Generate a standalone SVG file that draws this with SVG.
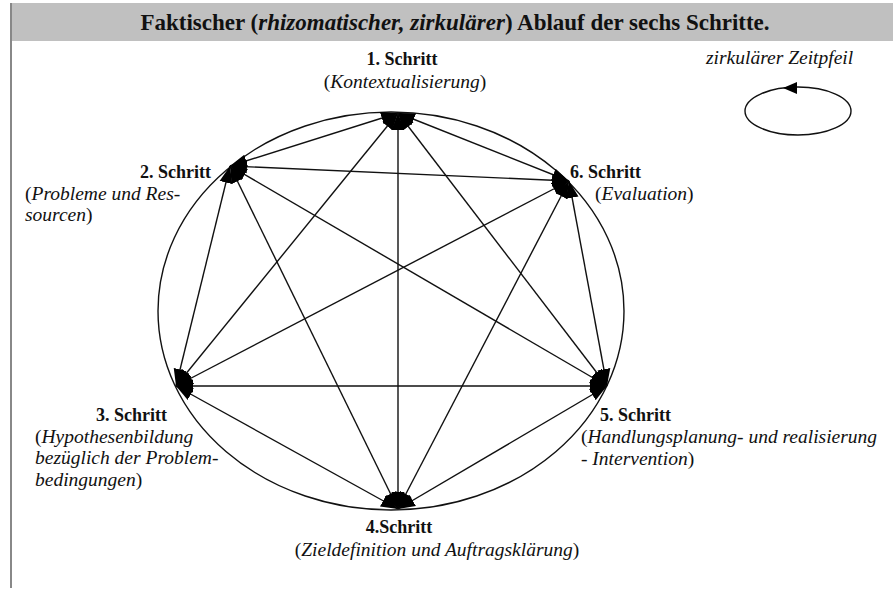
<svg xmlns="http://www.w3.org/2000/svg" width="893" height="594" viewBox="0 0 893 594">
<style>
text{font-family:"Liberation Serif","Times New Roman","DejaVu Serif",serif;fill:#111}
.b{font-weight:bold;font-size:18px}
.i{font-style:italic;font-size:19.5px}
.n{font-style:normal}
.title{font-weight:bold;font-size:23px}
.e{fill:none;stroke:#111;stroke-width:1.4}
.c line{stroke:#111;stroke-width:1.4;marker-start:url(#ah);marker-end:url(#ah)}
</style>
<defs>
<marker id="ah" markerUnits="userSpaceOnUse" markerWidth="18" markerHeight="14" refX="17" refY="7" orient="auto-start-reverse" viewBox="0 0 18 14">
<path d="M0,0.5 L17,7 L0,13.5 z" fill="#000"/>
</marker>
</defs>
<rect x="0" y="0" width="893" height="594" fill="#fff"/>
<rect x="11" y="3" width="882" height="38" fill="#c0c0c0"/>
<line x1="11" y1="3" x2="11" y2="588" stroke="#888" stroke-width="2"/>
<text class="title" x="455" y="30" text-anchor="middle">Faktischer (<tspan font-style="italic">rhizomatischer, zirkulärer</tspan>) Ablauf der sechs Schritte.</text>

<g id="connectors" class="c">
<ellipse class="e" cx="391" cy="311" rx="233" ry="199"/>
<line x1="398" y1="113" x2="230" y2="166"/>
<line x1="398" y1="113" x2="569" y2="181"/>
<line x1="398" y1="113" x2="176" y2="386"/>
<line x1="398" y1="113" x2="607" y2="386"/>
<line x1="398" y1="113" x2="398" y2="509"/>
<line x1="230" y1="166" x2="569" y2="181"/>
<line x1="230" y1="166" x2="176" y2="386"/>
<line x1="230" y1="166" x2="607" y2="386"/>
<line x1="230" y1="166" x2="398" y2="509"/>
<line x1="569" y1="181" x2="176" y2="386"/>
<line x1="569" y1="181" x2="607" y2="386"/>
<line x1="569" y1="181" x2="398" y2="509"/>
<line x1="176" y1="386" x2="607" y2="386"/>
<line x1="176" y1="386" x2="398" y2="509"/>
<line x1="607" y1="386" x2="398" y2="509"/>
</g>

<g id="node1">
<text class="b" x="402" y="65" text-anchor="middle">1. Schritt</text>
<text class="i" x="405" y="88" text-anchor="middle"><tspan class="n">(</tspan>Kontextualisierung<tspan class="n">)</tspan></text>
</g>
<g id="node2">
<text class="b" x="211" y="178" text-anchor="end">2. Schritt</text>
<text class="i" x="25" y="200"><tspan class="n">(</tspan>Probleme und Res-</text>
<text class="i" x="25" y="221">sourcen<tspan class="n">)</tspan></text>
</g>
<g id="node6">
<text class="b" x="570" y="178">6. Schritt</text>
<text class="i" x="595" y="200"><tspan class="n">(</tspan>Evaluation<tspan class="n">)</tspan></text>
</g>
<g id="node3">
<text class="b" x="167" y="421" text-anchor="end">3. Schritt</text>
<text class="i" x="35" y="443"><tspan class="n">(</tspan>Hypothesenbildung</text>
<text class="i" x="35" y="464">bezüglich der Problem-</text>
<text class="i" x="35" y="486">bedingungen<tspan class="n">)</tspan></text>
</g>
<g id="node5">
<text class="b" x="600" y="421">5. Schritt</text>
<text class="i" x="581" y="443"><tspan class="n">(</tspan>Handlungsplanung- und realisierung</text>
<text class="i" x="581" y="465">- Intervention<tspan class="n">)</tspan></text>
</g>
<g id="node4">
<text class="b" x="399" y="533" text-anchor="middle">4.Schritt</text>
<text class="i" x="437" y="556" text-anchor="middle"><tspan class="n">(</tspan>Zieldefinition und Auftragsklärung<tspan class="n">)</tspan></text>
</g>

<g id="legend">
<text class="i" x="706" y="64">zirkulärer Zeitpfeil</text>
<ellipse class="e" cx="798" cy="111" rx="53" ry="24"/>
<path d="M783,88 L797,82 L797,94 z" fill="#000"/>
</g>
</svg>
